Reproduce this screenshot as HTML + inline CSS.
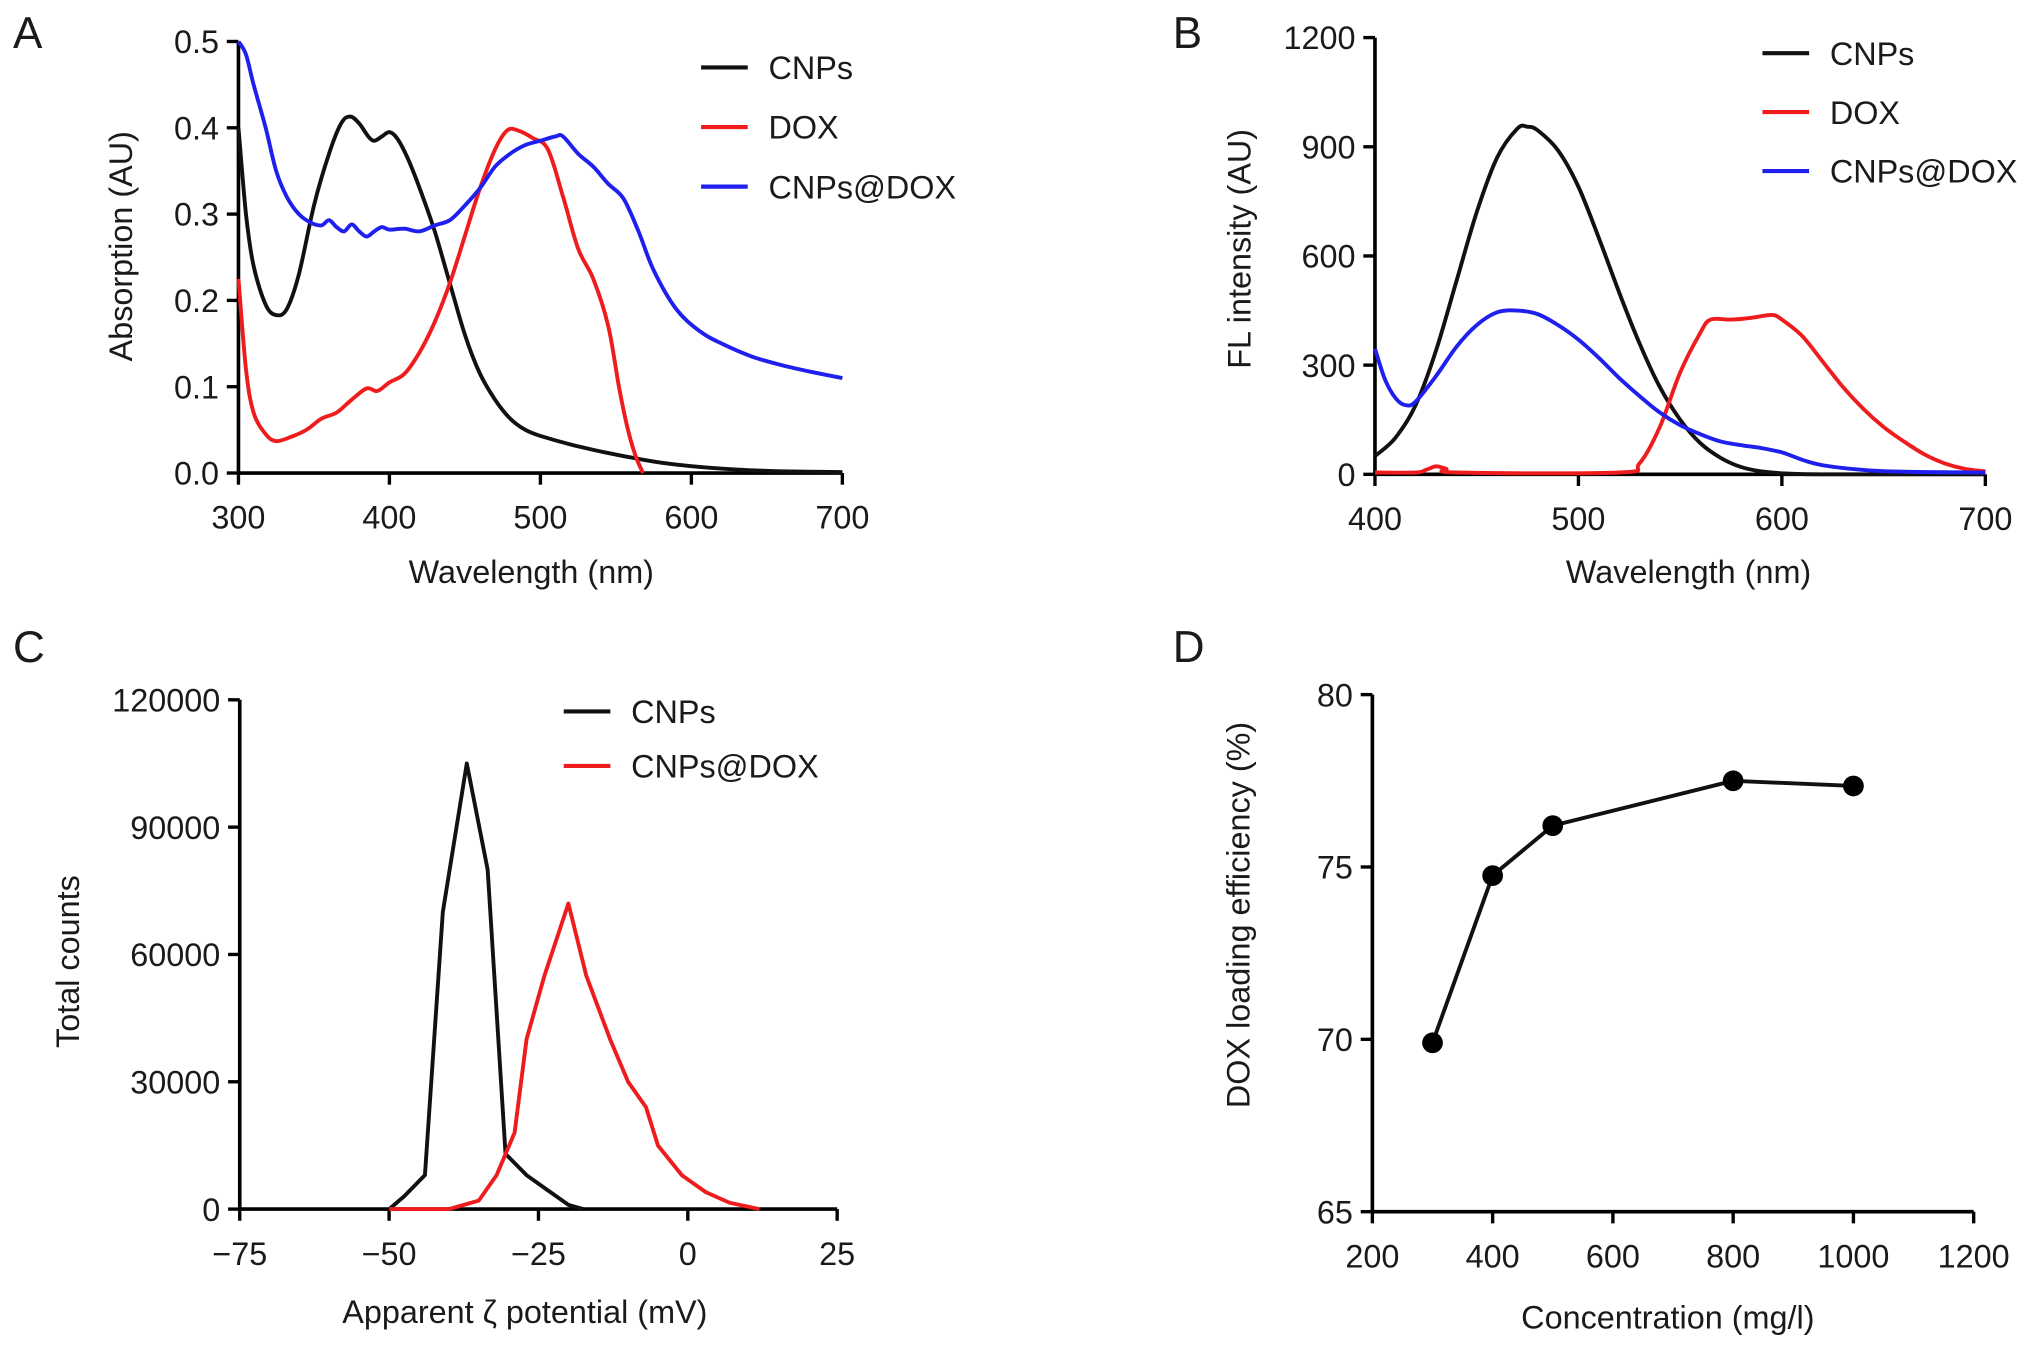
<!DOCTYPE html>
<html><head><meta charset="utf-8"><style>
html,body{margin:0;padding:0;background:#fff;}
svg{display:block;font-family:"Liberation Sans",Arial,sans-serif;}
</style></head><body>
<svg id="fig" width="2032" height="1347" viewBox="0 0 1568 1039.4" xmlns="http://www.w3.org/2000/svg"></svg>
<script>
// Panel A data (absorption)
const aCnpX=[300,305,310,318,325,332,340,350,360,368,374,380,386,390,395,400,405,412,420,430,440,450,460,470,480,490,500,520,540,560,580,600,630,660,700];
const aCnpY=[0.40,0.30,0.24,0.195,0.183,0.19,0.23,0.31,0.37,0.405,0.413,0.405,0.39,0.385,0.39,0.395,0.388,0.365,0.33,0.28,0.22,0.16,0.115,0.085,0.063,0.05,0.043,0.033,0.025,0.018,0.012,0.008,0.004,0.002,0.001];
const aDoxX=[300,305,310,318,325,335,345,355,365,375,385,392,400,410,420,430,440,450,460,470,478,485,495,505,515,525,535,545,552,558,563,568];
const aDoxY=[0.225,0.12,0.07,0.045,0.037,0.042,0.05,0.063,0.07,0.085,0.098,0.095,0.105,0.115,0.14,0.175,0.22,0.275,0.33,0.375,0.397,0.397,0.388,0.375,0.32,0.26,0.225,0.17,0.1,0.05,0.02,0.0];
const aMixX=[300,305,310,318,325,332,340,348,355,360,365,370,375,380,385,390,395,400,410,420,430,440,450,460,470,480,490,500,510,515,525,535,545,555,565,575,590,605,620,640,660,680,700];
const aMixY=[0.5,0.485,0.45,0.4,0.35,0.32,0.3,0.29,0.287,0.293,0.285,0.28,0.288,0.28,0.274,0.28,0.285,0.282,0.283,0.28,0.287,0.293,0.31,0.33,0.355,0.37,0.38,0.385,0.39,0.39,0.37,0.355,0.335,0.318,0.28,0.235,0.19,0.165,0.15,0.135,0.125,0.117,0.11];
const aXTicks=[300,400,500,600,700];
const aYTicks=[0.0,0.1,0.2,0.3,0.4,0.5];
// Panel B data (fluorescence)
const bCnpX=[400,410,420,430,440,450,460,470,475,480,490,500,510,520,530,540,550,560,570,580,590,600,620,700];
const bCnpY=[50,100,190,340,530,720,870,950,955,945,890,790,650,500,360,240,150,85,45,20,8,3,0,0];
const bDoxX=[400,420,425,430,435,440,520,530,540,550,560,565,575,585,595,600,610,620,630,640,650,660,670,680,690,700];
const bDoxY=[5,5,12,22,15,5,5,30,130,280,390,425,425,430,438,425,380,310,240,180,130,90,55,30,15,8];
const bMixX=[400,405,410,415,420,430,440,450,460,470,480,490,500,510,520,530,540,550,560,570,580,590,600,610,620,640,660,700];
const bMixY=[345,260,210,190,200,270,350,410,445,450,440,410,370,320,265,215,170,135,110,90,80,72,60,40,25,12,7,5];
const bXTicks=[400,500,600,700];
const bYTicks=[0,300,600,900,1200];
// Panel C data (zeta potential)
const cCnpX=[-50,-47.5,-44,-41,-37,-33.5,-30.5,-27,-23,-20,-17.5];
const cCnpY=[0,3000,8000,70000,105000,80000,13000,8000,4000,1000,0];
const cMixX=[-50,-40,-35,-32,-29,-27,-24,-20,-17,-13,-10,-7,-5,-1,3,7,12];
const cMixY=[0,0,2000,8000,18000,40000,55000,72000,55000,40000,30000,24000,15000,8000,4000,1500,0];
const cXTicks=[-75,-50,-25,0,25];
const cYTicks=[0,30000,60000,90000,120000];
// Panel D data (loading efficiency)
const dX=[300,400,500,800,1000];
const dY=[69.9,74.75,76.2,77.5,77.35];
const dXTicks=[200,400,600,800,1000,1200];
const dYTicks=[65,70,75,80];

const NS="http://www.w3.org/2000/svg";
const svg=document.getElementById('fig');
function mk(tag,attrs,parent){const e=document.createElementNS(NS,tag);for(const k in attrs)e.setAttribute(k,attrs[k]);(parent||svg).appendChild(e);return e;}
function txt(s,x,y,size,anchor,parent,rot){const e=mk('text',{x:x,y:y,'font-size':size,'text-anchor':anchor||'middle',fill:'#1a1a1a'},parent);if(rot)e.setAttribute('transform','rotate(-90 '+x+' '+y+')');e.textContent=s;return e;}
function scale(d0,d1,r0,r1){return v=>r0+(v-d0)/(d1-d0)*(r1-r0);}
function fmtA(v){return v.toFixed(1);}
function fmtC(v){return v<0?'\u2212'+Math.abs(v):String(v);}
function smoothPath(pts){
  let d='M'+pts[0][0].toFixed(1)+' '+pts[0][1].toFixed(1);
  for(let i=0;i<pts.length-1;i++){
    const p0=pts[i-1]||pts[i],p1=pts[i],p2=pts[i+1],p3=pts[i+2]||p2;
    const c1x=p1[0]+(p2[0]-p0[0])/6,c1y=p1[1]+(p2[1]-p0[1])/6;
    const c2x=p2[0]-(p3[0]-p1[0])/6,c2y=p2[1]-(p3[1]-p1[1])/6;
    d+=' C'+c1x.toFixed(1)+' '+c1y.toFixed(1)+' '+c2x.toFixed(1)+' '+c2y.toFixed(1)+' '+p2[0].toFixed(1)+' '+p2[1].toFixed(1);
  }
  return d;
}

function panel(o){
  const g=mk('g',{});
  
  
  const sx=scale(o.xd[0],o.xd[1],o.x0,o.x1), sy=scale(o.yd[0],o.yd[1],o.y0,o.y1);
  const ax=mk('g',{},g);
  
  
  mk('line',{x1:o.x0,y1:o.y0,x2:o.x1,y2:o.y0,stroke:'#000','stroke-width':2.8},ax);
  mk('line',{x1:o.x0,y1:o.y0,x2:o.x0,y2:o.y1,stroke:'#000','stroke-width':2.8},ax);
  o.xt.forEach(t=>{const x=sx(t);mk('line',{x1:x,y1:o.y0,x2:x,y2:o.y0+9,stroke:'#000','stroke-width':2.6},ax);
    const l=txt(o.xf?o.xf(t):String(t),x,o.y0+43,25,'middle',ax);
    
    });
  o.yt.forEach(t=>{const y=sy(t);mk('line',{x1:o.x0-9,y1:y,x2:o.x0,y2:y,stroke:'#000','stroke-width':2.6},ax);
    const l=txt(o.yf?o.yf(t):String(t),o.x0-15,y+9,25,'end',ax);
    
    });
  const xl=txt(o.xlabel,o.xlx,o.xly,25,'middle',g);
  
  
  const yl=txt(o.ylabel,o.ylx,o.yly,25,'middle',g,true);
  
  
  const pl=txt(o.letter,o.lx,o.ly,34,'start',g);
  
  
  o.series.forEach((s,i)=>{
    const pts=s.x.map((v,j)=>[sx(v),sy(s.y[j])]);
    const d=o.smooth?smoothPath(pts):pts.map((p,j)=>(j?'L':'M')+p[0].toFixed(1)+' '+p[1].toFixed(1)).join(' ');
    const p=mk('path',{d:d,fill:'none',stroke:s.color,'stroke-width':3,'stroke-linejoin':'round'},g);
    
    
    if(s.dots){s.x.forEach((v,j)=>{const c=mk('circle',{cx:sx(v),cy:sy(s.y[j]),r:8,fill:'#000'},g);
      
      });}
    if(o.leg){const ly=o.leg.y+i*o.leg.dy;
      const le=mk('g',{},g);
      
      
      mk('line',{x1:o.leg.x,y1:ly,x2:o.leg.x+36,y2:ly,stroke:s.color,'stroke-width':3.2},le);
      txt(s.label,o.leg.x+52,ly+9,25,'start',le);}
  });
}

panel({name:'panel-a-absorption',letter:'A',lx:10,ly:37,x0:184,x1:650,y0:365,y1:32,xd:[300,700],yd:[0,0.5],xt:aXTicks,yt:aYTicks,yf:fmtA,smooth:true,
 xlabel:'Wavelength (nm)',xlx:410,xly:450,ylabel:'Absorption (AU)',ylx:102,yly:190,
 leg:{x:541,y:52,dy:46},
 series:[{id:'cnps',label:'CNPs',color:'#111',x:aCnpX,y:aCnpY},{id:'dox',label:'DOX',color:'#ee1c1c',x:aDoxX,y:aDoxY},{id:'cnps-dox',label:'CNPs@DOX',color:'#1f1fee',x:aMixX,y:aMixY}]});
panel({name:'panel-b-fluorescence',letter:'B',lx:905,ly:37,x0:1061,x1:1532,y0:366,y1:29,xd:[400,700],yd:[0,1200],xt:bXTicks,yt:bYTicks,smooth:true,
 xlabel:'Wavelength (nm)',xlx:1303,xly:450,ylabel:'FL intensity (AU)',ylx:965,yly:192,
 leg:{x:1360,y:41,dy:45.5},
 series:[{id:'cnps',label:'CNPs',color:'#111',x:bCnpX,y:bCnpY},{id:'dox',label:'DOX',color:'#ee1c1c',x:bDoxX,y:bDoxY},{id:'cnps-dox',label:'CNPs@DOX',color:'#1f1fee',x:bMixX,y:bMixY}]});
panel({name:'panel-c-zeta-potential',letter:'C',lx:10,ly:511,x0:185,x1:646,y0:933,y1:540,xd:[-75,25],yd:[0,120000],xt:cXTicks,yt:cYTicks,xf:fmtC,
 xlabel:'Apparent \u03b6 potential (mV)',xlx:405,xly:1021,ylabel:'Total counts',ylx:61,yly:742,
 leg:{x:435,y:549,dy:42},
 series:[{id:'cnps',label:'CNPs',color:'#111',x:cCnpX,y:cCnpY},{id:'cnps-dox',label:'CNPs@DOX',color:'#ee1c1c',x:cMixX,y:cMixY}]});
panel({name:'panel-d-loading-efficiency',letter:'D',lx:905,ly:511,x0:1059,x1:1523,y0:935,y1:536,xd:[200,1200],yd:[65,80],xt:dXTicks,yt:dYTicks,
 xlabel:'Concentration (mg/l)',xlx:1287,xly:1025,ylabel:'DOX loading efficiency (%)',ylx:964,yly:706,
 series:[{id:'loading',label:'',color:'#111',x:dX,y:dY,dots:true}]});
</script>
</body></html>
